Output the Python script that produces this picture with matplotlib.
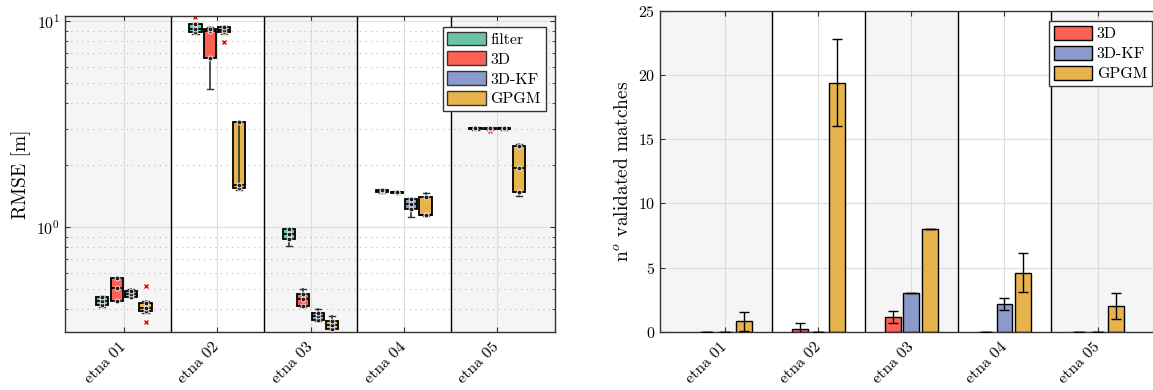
import matplotlib
matplotlib.use("Agg")
import matplotlib.pyplot as plt
from matplotlib.patches import Patch
import numpy as np

plt.rcParams["font.family"] = ["cmr10", "DejaVu Serif"]
plt.rcParams["mathtext.fontset"] = "cm"
plt.rcParams["axes.formatter.use_mathtext"] = True
plt.rcParams["axes.unicode_minus"] = False

# --- data ---
sequences = ["etna 01", "etna 02", "etna 03", "etna 04", "etna 05"]
box_methods = ["filter", "3D", "3D-KF", "GPGM"]
bar_methods = ["3D", "3D-KF", "GPGM"]
colors = {"filter": "#6cc4a6", "3D": "#fd6154", "3D-KF": "#8c9acb", "GPGM": "#e6b34c"}

# RMSE box stats per method, one entry per sequence
rmse_lo = {
    "filter": [0.41, 8.70, 0.815, 1.47, 2.98],
    "3D":     [0.44, 4.68, 0.41, 1.46, 2.98],
    "3D-KF":  [0.46, 8.70, 0.35, 1.12, 2.98],
    "GPGM":   [0.385, 1.52, 0.32, 1.13, 1.42],
}
rmse_q1 = {
    "filter": [0.42, 8.85, 0.875, 1.49, 3.00],
    "3D":     [0.44, 6.60, 0.414, 1.47, 3.00],
    "3D-KF":  [0.46, 8.85, 0.354, 1.23, 3.00],
    "GPGM":   [0.39, 1.55, 0.322, 1.14, 1.49],
}
rmse_med = {
    "filter": [0.44, 9.20, 0.93, 1.50, 3.02],
    "3D":     [0.505, 9.00, 0.446, 1.48, 3.01],
    "3D-KF":  [0.475, 9.10, 0.37, 1.29, 3.02],
    "GPGM":   [0.405, 1.60, 0.335, 1.15, 1.94],
}
rmse_q3 = {
    "filter": [0.46, 9.65, 0.98, 1.51, 3.04],
    "3D":     [0.57, 9.15, 0.476, 1.49, 3.03],
    "3D-KF":  [0.49, 9.40, 0.385, 1.37, 3.04],
    "GPGM":   [0.43, 3.23, 0.35, 1.40, 2.47],
}
rmse_hi = {
    "filter": [0.465, 9.80, 0.99, 1.53, 3.06],
    "3D":     [0.57, 9.40, 0.50, 1.50, 3.05],
    "3D-KF":  [0.50, 9.50, 0.402, 1.38, 3.06],
    "GPGM":   [0.44, 3.23, 0.37, 1.47, 2.53],
}
rmse_out = {
    "filter": [[], [10.5], [], [], []],
    "3D":     [[], [], [], [], [2.93]],
    "3D-KF":  [[], [7.9], [], [], []],
    "GPGM":   [[0.516, 0.347], [], [], [], []],
}

# validated matches: mean and std per sequence
match_mean = {
    "3D":    [0.0, 0.26, 1.19, 0.0, 0.0],
    "3D-KF": [0.0, 0.0, 3.0, 2.2, 0.0],
    "GPGM":  [0.83, 19.4, 8.0, 4.62, 2.0],
}
match_std = {
    "3D":    [0.0, 0.46, 0.47, 0.0, 0.0],
    "3D-KF": [0.0, 0.0, 0.0, 0.45, 0.0],
    "GPGM":  [0.75, 3.37, 0.0, 1.52, 1.0],
}

SHADE = "#f5f5f5"
FS = 11.5


def style_axes(ax, xlim):
    x = np.arange(1, len(sequences) + 1)
    n = len(sequences)
    ax.set_xlim(*xlim)
    for i in range(n):
        if i % 2 == 0:
            lo = xlim[0] if i == 0 else x[i] - 0.5
            hi = xlim[1] if i == n - 1 else x[i] + 0.5
            ax.axvspan(lo, hi, color=SHADE, zorder=0, lw=0)
    for i in range(n - 1):
        ax.axvline(x[i] + 0.5, color="black", lw=1.0, zorder=1)
    ax.set_xticks(x)
    ax.set_xticklabels(sequences, rotation=45, ha="right", va="center",
                       rotation_mode="anchor", fontsize=FS)
    ax.tick_params(axis="x", pad=9)
    ax.tick_params(direction="in", top=True, right=True, which="both",
                   color="#333333", labelsize=FS)
    ax.grid(True, axis="x", color="#dddddd", lw=0.8, zorder=0.5)
    for s in ax.spines.values():
        s.set_color("#333333")
        s.set_linewidth(1.0)
    ax.set_axisbelow(True)


legend_kw = dict(fontsize=FS, frameon=True, fancybox=False, framealpha=1,
                 edgecolor="#333333", handlelength=2.4, handleheight=0.95,
                 borderpad=0.3, labelspacing=0.28, handletextpad=0.3, borderaxespad=0)

fig = plt.figure(figsize=(11.53, 3.90), dpi=100)
ax1 = fig.add_axes([0.0564, 0.1487, 0.425, 0.8103])
ax2 = fig.add_axes([0.5724, 0.1487, 0.436, 0.8239])

# --- left: RMSE boxes ---
style_axes(ax1, (0.37, 5.62))
ax1.set_yscale("log")
ax1.set_ylim(0.31, 10.6)
ax1.grid(True, axis="y", which="major", color="#dddddd", lw=0.8)
ax1.grid(True, axis="y", which="minor", color="#bbbbbb", lw=0.8, ls=(0, (1, 4)))

step = 0.155
for k, m in enumerate(box_methods):
    off = (k - 1.5) * step
    stats = []
    for i in range(len(sequences)):
        stats.append({"whislo": rmse_lo[m][i], "q1": rmse_q1[m][i], "med": rmse_med[m][i],
                      "q3": rmse_q3[m][i], "whishi": rmse_hi[m][i], "fliers": rmse_out[m][i]})
    pos = np.arange(1, len(sequences) + 1) + off
    ax1.bxp(stats, positions=pos, widths=0.13, patch_artist=True, manage_ticks=False,
            boxprops=dict(facecolor=colors[m], edgecolor="black", lw=1.3),
            medianprops=dict(color="black", lw=1.3),
            whiskerprops=dict(color="#333333", lw=1.2),
            capprops=dict(color="#333333", lw=1.0),
            flierprops=dict(marker="x", markeredgecolor="red", markersize=3, mew=1.0))
    for i in range(len(sequences)):
        pts = [rmse_q1[m][i], rmse_med[m][i], rmse_q3[m][i]]
        ax1.plot([pos[i]] * 3, pts, "o", ms=3.5, mfc="#222222", mec="white", mew=0.6, zorder=4)

# whisker showing through the GPGM box of etna 02
ax1.vlines(2 + 1.5 * step, rmse_q1["GPGM"][1], rmse_q3["GPGM"][1], color="#333333", lw=1.2, zorder=3)

ax1.set_ylabel("RMSE [m]", fontsize=14)
ax1.legend(handles=[Patch(facecolor=colors[m], edgecolor="#333333", label=m) for m in box_methods],
           loc="upper right", bbox_to_anchor=(0.981, 0.966), **legend_kw)

# --- right: validated matches ---
style_axes(ax2, (0.3, 5.7))
ax2.set_ylim(0, 25)
ax2.set_yticks([0, 5, 10, 15, 20, 25])
ax2.grid(True, axis="y", color="#dddddd", lw=0.8)
x = np.arange(1, len(sequences) + 1)
for k, m in enumerate(bar_methods):
    off = (k - 1) * 0.2
    ax2.bar(x + off, match_mean[m], width=0.17, color=colors[m], edgecolor="black",
            lw=1.0, zorder=2, label=m)
    ax2.errorbar(x + off, match_mean[m], yerr=match_std[m], fmt="none", ecolor="black",
                 elinewidth=1.0, capsize=3.5, capthick=1.0, zorder=3)
ax2.set_ylabel("n$^{o}$ validated matches", fontsize=14)
ax2.legend(loc="upper right", bbox_to_anchor=(0.979, 0.967), **legend_kw)

fig.savefig("out.png", dpi=100)
